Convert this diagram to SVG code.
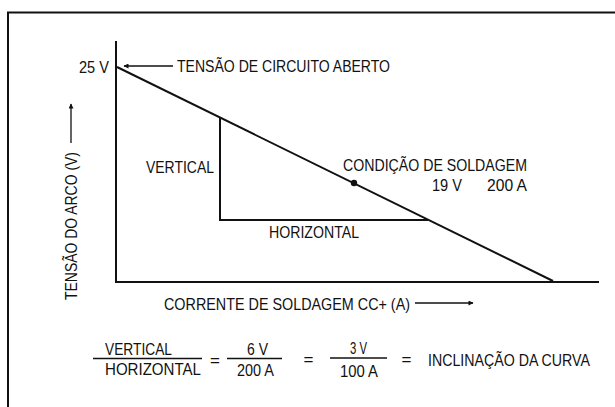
<svg xmlns="http://www.w3.org/2000/svg" width="615" height="407" viewBox="0 0 615 407">
<defs>
<style>
text{font-family:"Liberation Sans",Arial,sans-serif;font-size:17px;fill:#111}
.ln{stroke:#111;stroke-width:2;fill:none}
.thin{stroke:#111;stroke-width:1.3;fill:none}
</style>
<marker id="ah" viewBox="0 0 10 10" refX="9" refY="5" markerWidth="7" markerHeight="5" markerUnits="userSpaceOnUse" orient="auto">
<path d="M0,0 L10,5 L0,10 z" fill="#111"/>
</marker>
</defs>
<rect width="615" height="407" fill="#fff"/>
<g id="frame">
<path class="ln" d="M8,407 V12.5 H615"/>
</g>
<g id="axes">
<path class="ln" d="M116,41 V282 H599"/>
</g>
<g id="connectors">
<line class="ln" x1="117" y1="67" x2="553" y2="281"/>
<path class="ln" d="M220,118 V220 H428"/>
<line class="thin" x1="173" y1="66" x2="124" y2="66" marker-end="url(#ah)"/>
<line class="thin" x1="71" y1="143" x2="71" y2="104" marker-end="url(#ah)"/>
<line class="thin" x1="415" y1="303" x2="473" y2="303" marker-end="url(#ah)"/>
<line class="thin" x1="93" y1="358.5" x2="202" y2="358.5"/>
<line class="thin" x1="227" y1="358.5" x2="282" y2="358.5"/>
<line class="thin" x1="330" y1="358" x2="387" y2="358"/>
</g>
<g id="weld-point">
<circle cx="354" cy="183" r="3.2" fill="#111"/>
</g>
<g id="labels">
<text x="79" y="73" textLength="30" lengthAdjust="spacingAndGlyphs">25 V</text>
<text x="177" y="72" textLength="213" lengthAdjust="spacingAndGlyphs">TENSÃO DE CIRCUITO ABERTO</text>
<text x="146" y="173" textLength="68" lengthAdjust="spacingAndGlyphs">VERTICAL</text>
<text x="343" y="171" textLength="184" lengthAdjust="spacingAndGlyphs">CONDIÇÃO DE SOLDAGEM</text>
<text x="432" y="191" textLength="30" lengthAdjust="spacingAndGlyphs">19 V</text>
<text x="487" y="191" textLength="40" lengthAdjust="spacingAndGlyphs">200 A</text>
<text x="269" y="238" textLength="90" lengthAdjust="spacingAndGlyphs">HORIZONTAL</text>
<text transform="translate(77,300) rotate(-90)" x="0" y="0" textLength="148" lengthAdjust="spacingAndGlyphs">TENSÃO DO ARCO (V)</text>
<text x="164" y="310" textLength="246" lengthAdjust="spacingAndGlyphs">CORRENTE DE SOLDAGEM CC+ (A)</text>
</g>
<g id="equation">
<text x="105" y="355" textLength="67" lengthAdjust="spacingAndGlyphs">VERTICAL</text>
<text x="105" y="375" textLength="96" lengthAdjust="spacingAndGlyphs">HORIZONTAL</text>
<text x="215" y="366" text-anchor="middle">=</text>
<text x="247" y="355" textLength="21" lengthAdjust="spacingAndGlyphs">6 V</text>
<text x="237" y="376" textLength="37" lengthAdjust="spacingAndGlyphs">200 A</text>
<text x="308.5" y="365" text-anchor="middle">=</text>
<text x="350" y="354" textLength="17" lengthAdjust="spacingAndGlyphs">3 V</text>
<text x="340" y="377" textLength="38" lengthAdjust="spacingAndGlyphs">100 A</text>
<text x="406.5" y="365" text-anchor="middle">=</text>
<text x="428" y="366" textLength="162" lengthAdjust="spacingAndGlyphs">INCLINAÇÃO DA CURVA</text>
</g>
</svg>
